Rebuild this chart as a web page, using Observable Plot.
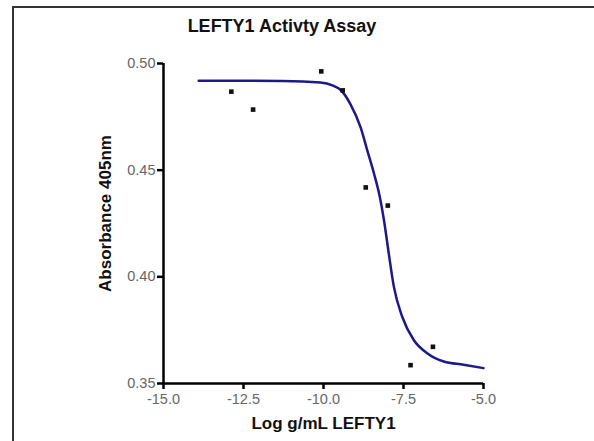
<!DOCTYPE html>
<html><head><meta charset="utf-8">
<script src="https://cdn.jsdelivr.net/npm/d3@7"></script>
<script src="https://cdn.jsdelivr.net/npm/@observablehq/plot@0.6"></script>
<style>
body{margin:0;background:#fff;}
#wrap{position:relative;width:594px;height:441px;overflow:hidden;font-family:"Liberation Sans",Arial,sans-serif;background:#fff;}
#frame{position:absolute;left:12px;top:6px;width:620px;height:500px;border-left:2px solid #333;border-top:2px solid #333;pointer-events:none;}
#title{position:absolute;left:0;width:564px;top:16px;text-align:center;font-weight:bold;font-size:18px;color:#111;}
#chart{position:absolute;left:0;top:0;}
</style>
</head><body>
<div id="wrap"><div id="chart"></div><div id="frame"></div><div id="title">LEFTY1 Activty Assay</div></div>
<script>
const pointX = [-12.88, -12.2, -10.07, -9.40, -8.68, -7.99, -7.28, -6.58];
const pointY = [0.4868, 0.4784, 0.4963, 0.4874, 0.4419, 0.4334, 0.3586, 0.3672];
const curveX = [-13.9, -12.5, -11.3, -10.1, -9.7, -9.47, -9.16, -8.84, -8.63, -8.42, -8.24, -8.11, -7.96, -7.80, -7.54, -7.18, -6.76, -6.24, -5.62, -5.0];
const curveY = [0.4919, 0.4919, 0.4918, 0.4911, 0.4896, 0.4877, 0.4810, 0.4701, 0.4592, 0.4483, 0.4374, 0.4265, 0.4109, 0.3953, 0.3813, 0.3704, 0.3642, 0.3603, 0.3588, 0.3572];
const xTicks = [-15, -12.5, -10, -7.5, -5];
const yTicks = [0.35, 0.40, 0.45, 0.50];
const xLabel = "Log g/mL LEFTY1";
const yLabel = "Absorbance 405nm";

const points = pointX.map((x, i) => ({x, y: pointY[i]}));
const curve = curveX.map((x, i) => ({x, y: curveY[i]}));

const plot = Plot.plot({
  width: 594,
  height: 441,
  marginLeft: 163,
  marginRight: 111,
  marginTop: 63,
  marginBottom: 58,
  style: {fontFamily: "Liberation Sans, Arial, sans-serif", fontSize: "14px", background: "transparent", overflow: "visible"},
  x: {domain: [-15, -5]},
  y: {domain: [0.35, 0.50]},
  marks: [
    Plot.axisX({ticks: xTicks, tickFormat: d => d.toFixed(1), tickSize: 6, tickPadding: 4, stroke: "black", strokeWidth: 2.5, fill: "#666", label: null, fontSize: 14.5}),
    Plot.axisY({ticks: yTicks, tickFormat: d => d.toFixed(2), tickSize: 6, tickPadding: 2, stroke: "black", strokeWidth: 2.5, fill: "#666", label: null, fontSize: 14.5}),
    Plot.ruleY([0.35], {stroke: "black", strokeWidth: 2.5}),
    Plot.ruleX([-15], {stroke: "black", strokeWidth: 2.5}),
    Plot.line(curve, {x: "x", y: "y", stroke: "#1c1a8a", strokeWidth: 2.5, curve: "monotone-x"}),
    Plot.dot(points, {x: "x", y: "y", symbol: "square", fill: "#111", r: 2.6}),
    Plot.text([xLabel], {frameAnchor: "bottom", dy: 45, fontWeight: "bold", fontSize: 17, fill: "#111"}),
    Plot.text([yLabel], {frameAnchor: "left", textAnchor: "middle", dx: -58, dy: -10, rotate: -90, fontWeight: "bold", fontSize: 17, fill: "#111"})
  ]
});
document.getElementById("chart").appendChild(plot);
</script>
</body></html>
